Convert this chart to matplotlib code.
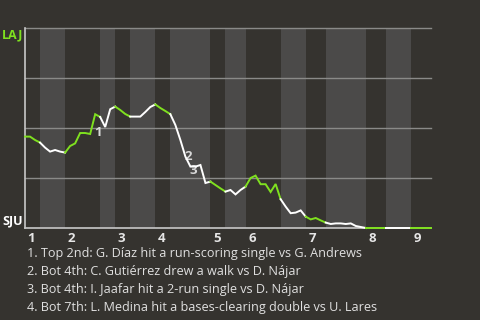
import numpy as np
import matplotlib.pyplot as plt

# half-inning boundaries, in plate appearances
half_starts = [0, 3, 8, 15, 18, 21, 26, 29, 37, 40, 44, 51, 56, 60, 68, 72, 77, 81]
inning_labels = ["1", "2", "3", "4", "5", "6", "7", "8", "9"]

# LAJ win expectancy (%) after each plate appearance
win_prob = [45.7, 45.7, 44.0, 42.7, 40.2, 38.2, 39.0, 38.2, 37.7, 41.0,
            42.3, 47.5, 47.5, 47.0, 56.9, 55.5, 50.5, 59.4, 60.7, 59.0,
            57.0, 55.7, 55.7, 55.7, 58.0, 60.5, 61.8, 60.0, 58.5, 56.9,
            51.5, 44.0, 35.7, 30.7, 30.7, 31.5, 22.5, 23.2, 21.5, 19.8,
            18.2, 19.0, 16.8, 19.0, 20.7, 25.0, 26.2, 21.9, 21.9, 18.0,
            22.0, 14.4, 10.7, 7.4, 7.7, 8.8, 5.7, 4.3, 5.0, 3.8,
            2.7, 2.0, 2.3, 2.3, 2.0, 2.3, 1.0, 0.5, 0.0, 0.0,
            0.0, 0.0, 0.0, 0.0, 0.0, 0.0, 0.0, 0.0, 0.0, 0.0,
            0.0, 0.0]

# key plays: (label, PA index, win prob where label sits)
note_num = ["1", "2", "3", "4"]
note_x = [14.6, 32.6, 33.6, 68.2]
note_y = [47.6, 36.0, 28.6, -3.2]
notes = ["1. Top 2nd: G. Díaz hit a run-scoring single vs G. Andrews",
         "2. Bot 4th: C. Gutiérrez drew a walk vs D. Nájar",
         "3. Bot 4th: I. Jaafar hit a 2-run single vs D. Nájar",
         "4. Bot 7th: L. Medina hit a bases-clearing double vs U. Lares"]

bg = "#35332f"
band = "#4b4a49"
green = "#7fe01f"
font = "Open Sans"

fig = plt.figure(figsize=(4.8, 3.2), dpi=100)
fig.patch.set_facecolor(bg)
ax = fig.add_axes([25 / 480, 92 / 320, 406 / 480, 200 / 320])
ax.set_facecolor(bg)
ax.set_xlim(0, 81)
ax.set_ylim(0, 100)

# shade bottom halves
for k in range(1, len(half_starts) - 1, 2):
    ax.axvspan(half_starts[k], half_starts[k + 1], color=band, lw=0, zorder=0)

for g in [25, 50, 75, 100]:
    ax.axhline(g, color="#8a8a88", lw=1, zorder=1, clip_on=False)
ax.axhline(0, color="#c8c8c8", lw=1.2, zorder=1, clip_on=False)
ax.axvline(0, color="#c8c8c8", lw=1.2, zorder=1, clip_on=False)

x = np.arange(len(win_prob))
y = np.array(win_prob)
for k in range(len(half_starts) - 1):
    a, b = half_starts[k], half_starts[k + 1]
    col = green if k % 2 == 0 else "white"
    ax.plot(x[a:b + 1], y[a:b + 1], color=col, lw=1.4, zorder=3,
            solid_joinstyle="miter", clip_on=False)

# the 4th note sits on the axis, mostly hidden like in the source
for n, nx, ny in zip(note_num, note_x, note_y):
    ax.text(nx, ny, n, color="#d8d8d8", fontsize=9.5, fontweight="bold",
            family=font, ha="center", va="center", zorder=2, clip_on=True)

for k, lab in zip(half_starts[0::2], inning_labels):
    ax.text(k + 0.5, -5, lab, color="#e6e6e6", fontsize=9.5, fontweight="bold",
            family=font, ha="left", va="center", clip_on=False)

ax.set_xticks([])
ax.set_yticks([])
for s in ax.spines.values():
    s.set_visible(False)

fig.text(2 / 480, 1 - 35 / 320, "LAJ", color=green, fontsize=9, fontweight="bold",
         family=font, va="center")
fig.text(2 / 480, 1 - 221 / 320, "SJU", color="white", fontsize=9, fontweight="bold",
         family=font, va="center")

for i, line in enumerate(notes):
    fig.text(27 / 480, 1 - (254 + 18 * i) / 320, line, color="#e0e0e0",
             fontsize=9.1, family=font, va="center")

fig.savefig("out.png", dpi=100, facecolor=bg)
